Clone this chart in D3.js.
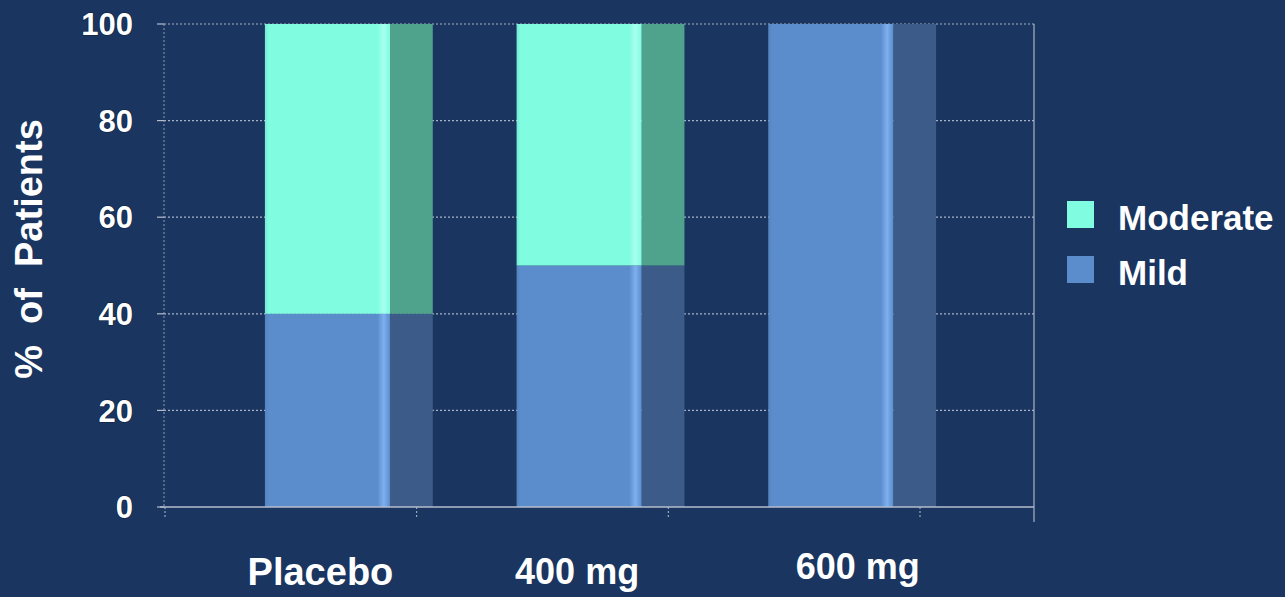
<!DOCTYPE html>
<html><head><meta charset="utf-8">
<script src="https://cdn.jsdelivr.net/npm/d3@7"></script>
<style>
html,body{margin:0;padding:0;background:#193560;}
svg{display:block;}
text{font-family:"Liberation Sans",Arial,sans-serif;font-weight:bold;fill:#fff;}
</style></head>
<body>
<script>
// ---- data ----
const categories = ["Placebo", "400 mg", "600 mg"];
const seriesNames = ["Mild", "Moderate"];
const mild = [40, 50, 100];
const moderate = [60, 50, 0];
const yTicks = [0, 20, 40, 60, 80, 100];
const legendOrder = ["Moderate", "Mild"];

// ---- layout ----
const W = 1285, H = 597;
const plotL = 164, plotR = 1034, plotT = 24, plotB = 507;
const labelShift = [-7, -2, 27];
const labelBase = [585, 584, 579];
const colors = {
  Mild: {front: "#5b8ccb", hi: "#7eb0f0", side: "#3d5b88"},
  Moderate: {front: "#80fce0", hi: "#a8fff0", side: "#4fa28c"}
};

const svg = d3.select("body").append("svg").attr("width", W).attr("height", H);
svg.append("rect").attr("width", W).attr("height", H).attr("fill", "#193560");

const defs = svg.append("defs");
seriesNames.forEach(s => {
  const g = defs.append("linearGradient").attr("id", "grad-" + s).attr("x1", 0).attr("x2", 1).attr("y1", 0).attr("y2", 0);
  g.append("stop").attr("offset", "0%").attr("stop-color", colors[s].front).attr("stop-opacity", 0.9);
  g.append("stop").attr("offset", "3%").attr("stop-color", colors[s].front);
  g.append("stop").attr("offset", "90%").attr("stop-color", colors[s].front);
  g.append("stop").attr("offset", "95%").attr("stop-color", colors[s].hi);
  g.append("stop").attr("offset", "100%").attr("stop-color", colors[s].front);
});

const x = d3.scaleBand().domain(categories).range([165, 920]).paddingInner(0).paddingOuter(0);
const y = d3.scaleLinear().domain([0, 100]).range([plotB, plotT]);
const step = x.step();
const frontOff = step * 0.397, frontW = step * 0.497, depth = step * 0.17;

// gridlines
const grid = svg.append("g");
yTicks.filter(t => t > 0).forEach(t => {
  grid.append("line").attr("x1", plotL).attr("x2", plotR).attr("y1", y(t)).attr("y2", y(t))
    .attr("stroke", "#aab4c6").attr("stroke-width", 1.2).attr("stroke-dasharray", "2,2");
});
grid.append("line").attr("x1", plotL).attr("x2", plotL).attr("y1", plotT).attr("y2", plotB)
  .attr("stroke", "#8f9bb3").attr("stroke-width", 1).attr("stroke-dasharray", "2,2");
grid.append("line").attr("x1", plotR).attr("x2", plotR).attr("y1", plotT).attr("y2", plotB + 15)
  .attr("stroke", "#aab4c6").attr("stroke-width", 1.2);

// stacked data
const table = categories.map((c, i) => ({cat: c, Mild: mild[i], Moderate: moderate[i]}));
const stack = d3.stack().keys(seriesNames)(table);

const bars = svg.append("g");
stack.forEach(layer => {
  const s = layer.key;
  layer.forEach(d => {
    if (d[1] - d[0] <= 0) return;
    const x0 = x(d.data.cat) + frontOff;
    bars.append("rect").attr("x", x0 + frontW).attr("y", y(d[1])).attr("width", depth)
      .attr("height", y(d[0]) - y(d[1])).attr("fill", colors[s].side);
    bars.append("rect").attr("x", x0).attr("y", y(d[1])).attr("width", frontW)
      .attr("height", y(d[0]) - y(d[1])).attr("fill", "url(#grad-" + s + ")");
  });
});

// x axis line and ticks
svg.append("line").attr("x1", plotL - 4).attr("x2", plotR).attr("y1", plotB).attr("y2", plotB)
  .attr("stroke", "#b5bdcc").attr("stroke-width", 1.5);
const xt = categories.map(c => x(c)).concat([x(categories[categories.length - 1]) + step]);
xt.forEach(v => {
  svg.append("line").attr("x1", v).attr("x2", v).attr("y1", plotB).attr("y2", plotB + 10)
    .attr("stroke", "#b5bdcc").attr("stroke-width", 1).attr("stroke-dasharray", "2,2");
});

// y ticks and labels
yTicks.forEach(t => {
  svg.append("line").attr("x1", plotL - 7).attr("x2", plotL).attr("y1", y(t)).attr("y2", y(t))
    .attr("stroke", "#b5bdcc").attr("stroke-width", 1.2);
  svg.append("text").attr("x", 133).attr("y", y(t)).attr("dy", "0.36em")
    .attr("text-anchor", "end").attr("font-size", 31)
    .attr("stroke", "#0d1f3a").attr("stroke-width", 1.2).attr("paint-order", "stroke")
    .text(t);
});

// x labels
categories.forEach((c, i) => {
  svg.append("text").attr("x", x(c) + frontOff + frontW / 2 + labelShift[i])
    .attr("y", labelBase[i]).attr("text-anchor", "middle")
    .attr("font-size", i === 0 ? 38 : 36).text(c);
});

// y title
svg.append("text").attr("transform", "translate(42,249) rotate(-90)")
  .attr("text-anchor", "middle").attr("font-size", 38).attr("xml:space", "preserve")
  .style("white-space", "pre").text("%  of  Patients");

// legend
legendOrder.forEach((s, i) => {
  const ly = 201 + i * 55;
  svg.append("rect").attr("x", 1067).attr("y", ly).attr("width", 27).attr("height", 27)
    .attr("fill", colors[s].front);
  svg.append("text").attr("x", 1118).attr("y", ly + 29)
    .attr("font-size", 35).text(s);
});
</script>
</body></html>
